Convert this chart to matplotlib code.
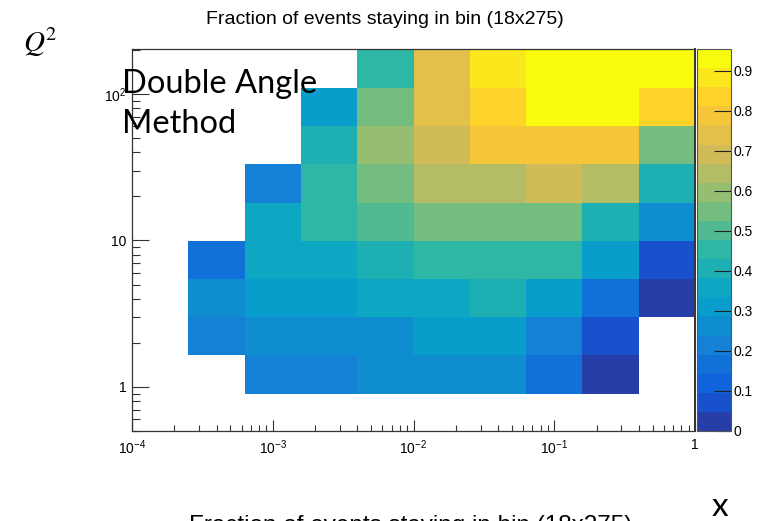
import numpy as np
import matplotlib
matplotlib.use("Agg")
import matplotlib.pyplot as plt
from matplotlib.colors import LinearSegmentedColormap, ListedColormap, BoundaryNorm
from matplotlib.ticker import FixedLocator, NullFormatter

plt.rcParams['font.family'] = ['Liberation Sans', 'DejaVu Sans']
plt.rcParams['mathtext.default'] = 'regular'

# ---- data ----
title = "Fraction of events staying in bin (18x275)"
x_edges_log = [-4.0, -3.6, -3.2, -2.8, -2.4, -2.0, -1.6, -1.2, -0.8, -0.4, 0.0]
q2_edges_log = [-0.046, 0.215, 0.476, 0.737, 0.998, 1.259, 1.520, 1.781, 2.042, 2.303]
nan = np.nan
fraction = [
    [nan, nan, 0.21, 0.21, 0.26, 0.26, 0.26, 0.17, 0.02, nan],
    [nan, 0.21, 0.26, 0.26, 0.26, 0.31, 0.31, 0.21, 0.07, nan],
    [nan, 0.26, 0.31, 0.31, 0.36, 0.36, 0.41, 0.31, 0.17, 0.02],
    [nan, 0.17, 0.36, 0.36, 0.41, 0.45, 0.45, 0.45, 0.31, 0.07],
    [nan, nan, 0.36, 0.45, 0.50, 0.55, 0.55, 0.55, 0.41, 0.26],
    [nan, nan, 0.21, 0.45, 0.55, 0.645, 0.645, 0.69, 0.645, 0.41],
    [nan, nan, nan, 0.41, 0.60, 0.69, 0.79, 0.79, 0.79, 0.55],
    [nan, nan, nan, 0.31, 0.55, 0.74, 0.84, 0.93, 0.93, 0.84],
    [nan, nan, nan, nan, 0.45, 0.74, 0.88, 0.93, 0.93, 0.93],
]
z_max = 0.955
n_contours = 20
x_ticks = [1e-4, 1e-3, 1e-2, 1e-1, 1]
x_ticklabels = ["$10^{-4}$", "$10^{-3}$", "$10^{-2}$", "$10^{-1}$", "1"]
y_ticks = [1, 10, 100]
y_ticklabels = ["1", "10", "$10^{2}$"]
cbar_ticks = [0, 0.1, 0.2, 0.3, 0.4, 0.5, 0.6, 0.7, 0.8, 0.9]
cbar_ticklabels = ["0", "0.1", "0.2", "0.3", "0.4", "0.5", "0.6", "0.7", "0.8", "0.9"]

# ---- ROOT kBird palette ----
stops = [0.0, 0.125, 0.25, 0.375, 0.5, 0.625, 0.75, 0.875, 1.0]
red = [0.2082, 0.0592, 0.0780, 0.0232, 0.1802, 0.5301, 0.8186, 0.9956, 0.9764]
green = [0.1664, 0.3599, 0.5041, 0.6419, 0.7178, 0.7492, 0.7328, 0.7862, 0.9832]
blue = [0.5293, 0.8684, 0.8385, 0.7914, 0.6425, 0.4662, 0.3499, 0.1968, 0.0539]
bird = LinearSegmentedColormap.from_list(
    "bird", [(s, (r, g, b)) for s, r, g, b in zip(stops, red, green, blue)], N=255)
band_colors = [bird(int((i + 0.99) * 255 / n_contours) / 254.0) for i in range(n_contours)]
cmap = ListedColormap(band_colors)
cmap.set_bad((1, 1, 1, 0))
levels = np.linspace(0, z_max, n_contours + 1)
norm = BoundaryNorm(levels, cmap.N)

# ---- figure ----
W, H = 761, 521
fig = plt.figure(figsize=(W / 100, H / 100), dpi=100)
ax = fig.add_axes([132 / W, 1 - 431 / H, (695 - 132) / W, (431 - 49) / H])
cax = fig.add_axes([697 / W, 1 - 431 / H, (731 - 697) / W, (431 - 49) / H])

xe = 10 ** np.array(x_edges_log)
ye = 10 ** np.array(q2_edges_log)
Z = np.ma.masked_invalid(np.array(fraction))
mesh = ax.pcolormesh(xe, ye, Z, cmap=cmap, norm=norm, antialiased=False,
                     edgecolors='face', linewidth=0)
ax.set_xscale('log')
ax.set_yscale('log')
ax.set_xlim(1e-4, 1)
ax.set_ylim(0.5, 10 ** 2.307)

for s in ax.spines.values():
    s.set_color('#333333')
    s.set_linewidth(0.9)
ax.spines['right'].set_linewidth(1.4)

ax.xaxis.set_major_locator(FixedLocator(x_ticks))
ax.set_xticklabels(x_ticklabels)
ax.yaxis.set_major_locator(FixedLocator(y_ticks))
ax.set_yticklabels(y_ticklabels)
xminor = [m * 10.0 ** e for e in range(-4, 0) for m in range(2, 10)]
yminor = [m * 10.0 ** e for e in range(-1, 3) for m in range(2, 10)]
ax.xaxis.set_minor_locator(FixedLocator(xminor))
ax.yaxis.set_minor_locator(FixedLocator(yminor))
ax.xaxis.set_minor_formatter(NullFormatter())
ax.yaxis.set_minor_formatter(NullFormatter())
ax.tick_params(axis='x', which='major', direction='in', length=8, width=0.8,
               color='#333333', labelsize=10, pad=5, top=False)
ax.tick_params(axis='x', which='minor', direction='in', length=4.2, width=0.8,
               color='#333333', top=False)
ax.tick_params(axis='y', which='major', direction='in', length=12, width=0.8,
               color='#333333', labelsize=10, pad=4, right=False)
ax.tick_params(axis='y', which='minor', direction='in', length=6, width=0.8,
               color='#333333', right=False)

cb = fig.colorbar(mesh, cax=cax, boundaries=levels, ticks=cbar_ticks)
cb.set_ticklabels(cbar_ticklabels)
cb.outline.set_edgecolor('#555555')
cb.outline.set_linewidth(0.8)
cax.tick_params(which='major', direction='in', length=12, width=0.8, color='#222222',
                labelsize=10, pad=2)
cax.minorticks_off()

fig.text(385 / W, 1 - 19 / H, title, ha='center', va='center', fontsize=14)
fig.text(40 / W, 1 - 42 / H, r"$\mathit{Q}^{\mathrm{2}}$", ha='center', va='center',
         fontsize=21, math_fontfamily='stix')
fig.text(122 / W, 1 - 93 / H, "Double Angle", ha='left', va='baseline',
         fontsize=23.5, family=['Lato', 'DejaVu Sans'])
fig.text(122 / W, 1 - 133 / H, "Method", ha='left', va='baseline',
         fontsize=23.5, family=['Lato', 'DejaVu Sans'])
fig.text(720 / W, 1 - 516 / H, "x", ha='center', va='baseline', fontsize=24,
         family=['Lato', 'DejaVu Sans'])
fig.text(189 / W, 1 - 532 / H, title, ha='left', va='baseline', fontsize=17.5)

fig.savefig("out.png", dpi=100)
